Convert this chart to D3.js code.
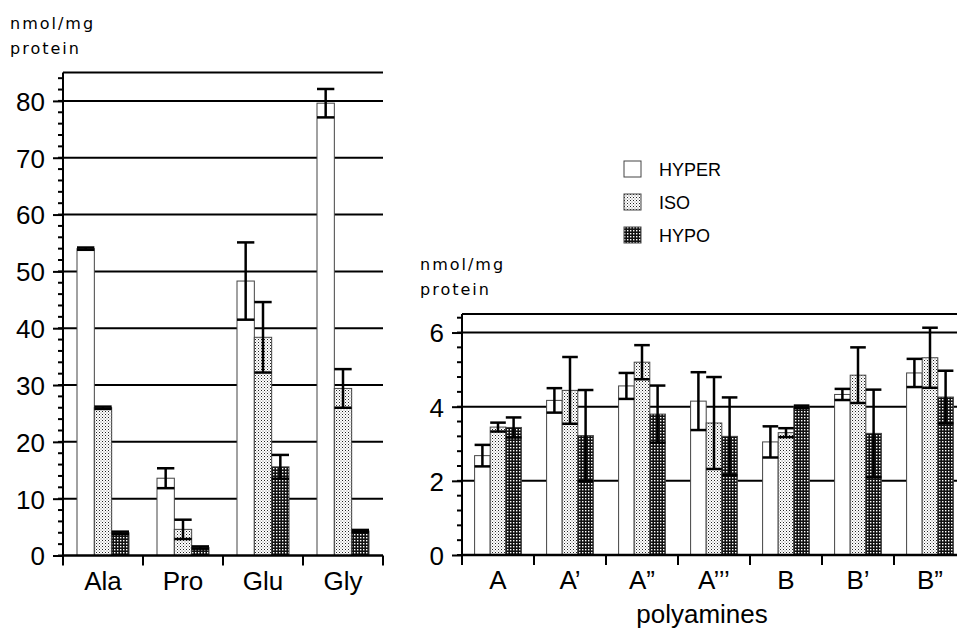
<!DOCTYPE html>
<html>
<head>
<meta charset="utf-8">
<script src="https://cdn.jsdelivr.net/npm/d3@7"></script>
<style>
  body { margin: 0; background: #fff; }
  svg { display: block; }
  text { font-family: "Liberation Sans", Arial, sans-serif; fill: #000; }
  .unit { font-family: "DejaVu Sans", sans-serif; font-size: 16px; letter-spacing: 2px; }
</style>
</head>
<body>
<div id="chart"></div>
<script>
const WIDTH = 957;
const HEIGHT = 628;

// treatments
const groups = ["HYPER", "ISO", "HYPO"];

// left panel: amino acids
const aminoAcids = ["Ala", "Pro", "Glu", "Gly"];
const aaHyper = [54, 13.6, 48.3, 79.6];
const aaHyperErr = [0.2, 1.75, 6.8, 2.5];
const aaIso = [26, 4.6, 38.4, 29.4];
const aaIsoErr = [0.2, 1.7, 6.2, 3.4];
const aaHypo = [4.0, 1.4, 15.6, 4.3];
const aaHypoErr = [0.2, 0.2, 2.1, 0.2];
const aaTicks = [0, 10, 20, 30, 40, 50, 60, 70, 80];

// right panel: polyamines
const polyamines = ["A", "A’", "A”", "A’’’", "B", "B’", "B”"];
const paHyper = [2.68, 4.17, 4.56, 4.15, 3.05, 4.33, 4.91];
const paHyperErr = [0.29, 0.33, 0.35, 0.78, 0.42, 0.15, 0.38];
const paIso = [3.45, 4.44, 5.20, 3.56, 3.30, 4.85, 5.32];
const paIsoErr = [0.12, 0.9, 0.46, 1.24, 0.12, 0.75, 0.81];
const paHypo = [3.44, 3.22, 3.80, 3.20, 4.0, 3.28, 4.26];
const paHypoErr = [0.27, 1.23, 0.77, 1.05, 0.03, 1.18, 0.71];
const paTicks = [0, 2, 4, 6];

const svg = d3.select("#chart")
    .append("svg")
    .attr("width", WIDTH)
    .attr("height", HEIGHT);

/* PATTERNS */
const defs = svg.append("defs");

const iso = defs.append("pattern")
    .attr("id", "iso")
    .attr("patternUnits", "userSpaceOnUse")
    .attr("width", 3).attr("height", 3);
iso.append("rect").attr("width", 3).attr("height", 3).attr("fill", "#fff");
iso.append("rect").attr("x", 0).attr("y", 0).attr("width", 1).attr("height", 1).attr("fill", "#222");
iso.append("rect").attr("x", 1.5).attr("y", 1.5).attr("width", 1).attr("height", 1).attr("fill", "#777");

const hypo = defs.append("pattern")
    .attr("id", "hypo")
    .attr("patternUnits", "userSpaceOnUse")
    .attr("width", 3).attr("height", 3);
hypo.append("rect").attr("width", 3).attr("height", 3).attr("fill", "#111");
hypo.append("rect").attr("x", 0).attr("y", 0).attr("width", 1.4).attr("height", 1.4).attr("fill", "#fff");

const fills = { HYPER: "#fff", ISO: "url(#iso)", HYPO: "url(#hypo)" };

/* PANELS */
function drawPanel(cfg) {
    const g = svg.append("g");

    const y = d3.scaleLinear().domain([0, cfg.yMax]).range([cfg.bottom, cfg.top]);
    const x = d3.scaleBand().domain(cfg.categories).range([cfg.left, cfg.right]);
    const inner = d3.scaleBand().domain(groups)
        .range([x.bandwidth() * 0.175, x.bandwidth() * 0.825]);

    // grid lines, including the top frame
    g.append("g").selectAll("line")
        .data(cfg.ticks.filter(t => t > 0).concat([cfg.yMax]))
        .enter().append("line")
        .attr("x1", cfg.left).attr("x2", Math.min(cfg.right, WIDTH))
        .attr("y1", d => y(d)).attr("y2", d => y(d))
        .attr("stroke", "#000").attr("stroke-width", 2);

    // bars
    const series = groups.map((grp, k) => ({
        grp: grp,
        values: cfg.values[k],
        errs: cfg.errors[k]
    }));

    const rows = series.flatMap(s => s.values.map((v, i) => ({
        grp: s.grp, cat: cfg.categories[i], v: v, e: s.errs[i]
    })));

    g.append("g").selectAll("rect")
        .data(rows)
        .enter().append("rect")
        .attr("x", d => x(d.cat) + inner(d.grp))
        .attr("width", inner.bandwidth())
        .attr("y", d => y(d.v))
        .attr("height", d => y(0) - y(d.v))
        .attr("fill", d => fills[d.grp])
        .attr("stroke", "#444")
        .attr("stroke-width", 1);

    // error bars
    const eb = g.append("g").selectAll("g")
        .data(rows)
        .enter().append("g")
        .attr("stroke", "#000")
        .attr("stroke-width", 2.5);

    const cx = d => x(d.cat) + inner(d.grp) + inner.bandwidth() / 2;
    const cap = inner.bandwidth() / 2;

    eb.append("line")
        .attr("x1", cx).attr("x2", cx)
        .attr("y1", d => y(d.v + d.e)).attr("y2", d => y(d.v - d.e));
    eb.append("line")
        .attr("x1", d => cx(d) - cap).attr("x2", d => cx(d) + cap)
        .attr("y1", d => y(d.v + d.e)).attr("y2", d => y(d.v + d.e));
    eb.append("line")
        .attr("x1", d => cx(d) - cap).attr("x2", d => cx(d) + cap)
        .attr("y1", d => y(d.v - d.e)).attr("y2", d => y(d.v - d.e));

    // y axis: major ticks with labels
    const yAxis = g.append("g")
        .attr("transform", `translate(${cfg.left},0)`)
        .call(d3.axisLeft(y).tickValues(cfg.ticks).tickSize(10).tickPadding(8).tickFormat(d3.format("d")));
    yAxis.select(".domain").remove();

    // minor ticks
    const minor = d3.range(0, cfg.yMax + 1e-9, cfg.minorStep);
    g.append("g").selectAll("line")
        .data(minor)
        .enter().append("line")
        .attr("x1", cfg.left - 5).attr("x2", cfg.left)
        .attr("y1", d => y(d)).attr("y2", d => y(d))
        .attr("stroke", "#000").attr("stroke-width", 2);

    yAxis.selectAll(".tick line").attr("stroke-width", 2);
    yAxis.selectAll(".tick text")
        .style("font-family", "Liberation Sans, Arial, sans-serif")
        .style("font-size", "26px")
        .attr("dy", "0.36em");

    // vertical axis line
    g.append("line")
        .attr("x1", cfg.left).attr("x2", cfg.left)
        .attr("y1", y(cfg.yMax)).attr("y2", y(0))
        .attr("stroke", "#000").attr("stroke-width", 2);

    // x axis line with category separators
    g.append("line")
        .attr("x1", cfg.left).attr("x2", Math.min(cfg.right, WIDTH))
        .attr("y1", y(0)).attr("y2", y(0))
        .attr("stroke", "#000").attr("stroke-width", 2.5);

    const bounds = cfg.categories.map(c => x(c)).concat([cfg.right]);
    g.append("g").selectAll("line")
        .data(bounds)
        .enter().append("line")
        .attr("x1", d => d).attr("x2", d => d)
        .attr("y1", y(0)).attr("y2", y(0) + 10)
        .attr("stroke", "#000").attr("stroke-width", 2);

    g.append("g").selectAll("text")
        .data(cfg.categories)
        .enter().append("text")
        .attr("x", d => x(d) + x.bandwidth() / 2)
        .attr("y", cfg.bottom + 34)
        .attr("text-anchor", "middle")
        .style("font-size", "26px")
        .text(d => d);

    // unit label
    const unit = g.append("text")
        .attr("class", "unit")
        .attr("x", cfg.unitX)
        .attr("y", cfg.unitY);
    unit.append("tspan").attr("x", cfg.unitX).text("nmol/mg");
    unit.append("tspan").attr("x", cfg.unitX).attr("dy", 25).text("protein");

    return { x, y };
}

drawPanel({
    categories: aminoAcids,
    values: [aaHyper, aaIso, aaHypo],
    errors: [aaHyperErr, aaIsoErr, aaHypoErr],
    ticks: aaTicks,
    yMax: 85,
    minorStep: 2,
    left: 63, right: 383,
    top: 72.5, bottom: 555.5,
    unitX: 10, unitY: 29
});

drawPanel({
    categories: polyamines,
    values: [paHyper, paIso, paHypo],
    errors: [paHyperErr, paIsoErr, paHypoErr],
    ticks: paTicks,
    yMax: 6.5,
    minorStep: 0.4,
    left: 462, right: 966,
    top: 314, bottom: 555,
    unitX: 420, unitY: 270
});

svg.append("text")
    .attr("x", 702)
    .attr("y", 623)
    .attr("text-anchor", "middle")
    .style("font-size", "26px")
    .text("polyamines");

/* LEGEND */
const legend = svg.append("g")
    .attr("transform", "translate(624,161)");

const item = legend.selectAll("g")
    .data(groups)
    .enter().append("g")
    .attr("transform", (d, i) => `translate(0,${i * 33})`);

item.append("rect")
    .attr("width", 17).attr("height", 16)
    .attr("fill", d => fills[d])
    .attr("stroke", "#444").attr("stroke-width", 1);

item.append("text")
    .attr("x", 35).attr("y", 15)
    .style("font-size", "18px")
    .text(d => d);
</script>
</body>
</html>
